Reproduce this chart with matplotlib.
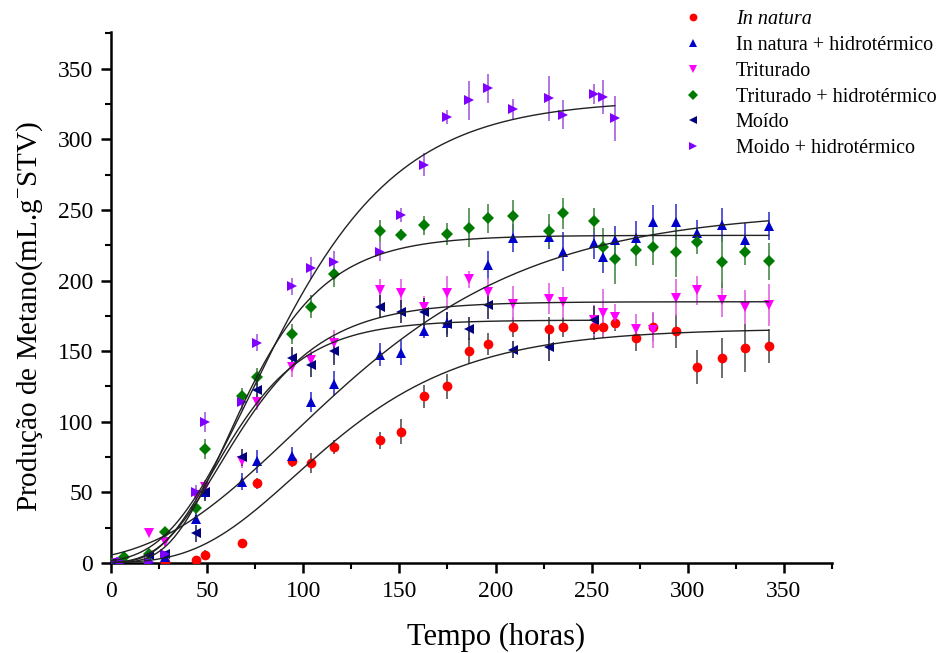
import numpy as np
import matplotlib
matplotlib.use('Agg')
import matplotlib.pyplot as plt
from matplotlib.lines import Line2D
from matplotlib.ticker import MultipleLocator

plt.rcParams['font.family'] = ['Liberation Serif', 'DejaVu Serif']
plt.rcParams['mathtext.fontset'] = 'custom'
plt.rcParams['mathtext.rm'] = 'Liberation Serif'

# In natura
t_nat = [0, 28, 44, 49, 68, 76, 94, 104, 116, 140, 151, 163, 175, 186, 196, 209, 228, 235,
         251, 256, 262, 273, 282, 294, 305, 318, 330, 342]
y_nat = [0, 0.5, 2, 6, 14.5, 56.5, 72, 71, 82, 87, 93, 118, 125, 150, 155, 167, 166, 167,
         167, 167, 170, 159, 167, 164.5, 139, 145, 152, 153.5]
e_nat = [1, 1, 2, 3, 2, 4, 4, 7, 5, 6, 9, 8, 9, 9, 8, 7, 8, 7,
         9, 8, 6, 9, 10, 12, 12, 14, 17, 12]

# In natura + hidrotermico
t_nat_h = [0, 5, 20, 28, 44, 49, 68, 76, 94, 104, 116, 140, 151, 163, 175, 196, 209, 228,
           235, 251, 256, 262, 273, 282, 294, 305, 318, 330, 342]
y_nat_h = [0, 1, 2, 4, 31.5, 50, 57.5, 72, 76, 114, 127, 147.5, 149, 164, 170, 211, 230, 231,
           220.5, 226.5, 216.5, 228.5, 230, 241.5, 241.5, 234, 239.5, 229, 238.5]
e_nat_h = [1, 1, 1, 2, 4, 5, 6, 8, 6, 7, 9, 8, 9, 5, 8, 10, 10, 9,
           14, 11, 11, 10, 12, 12, 13, 9, 12, 12, 10]

# Triturado
t_tri = [0, 5, 20, 28, 44, 49, 68, 76, 94, 104, 116, 140, 151, 163, 175, 186, 196, 209,
         228, 235, 251, 256, 262, 273, 282, 294, 305, 318, 330, 342]
y_tri = [0, 1, 21.5, 15, 48, 54, 72, 114, 139, 144, 156, 193, 191, 181, 191, 201, 192, 183.5,
         187, 184.5, 172, 177, 174.5, 166, 165, 188, 193, 186.5, 181, 182.5]
e_tri = [1, 1, 2, 3, 5, 5, 5, 6, 7, 6, 9, 8, 10, 8, 12, 6, 10, 13,
         11, 11, 11, 17, 9, 10, 13, 13, 10, 12, 12, 15]

# Triturado + hidrotermico
t_tri_h = [0, 7, 20, 28, 44, 49, 68, 76, 94, 104, 116, 140, 151, 163, 175, 186, 196, 209,
           228, 235, 251, 256, 262, 273, 282, 294, 305, 318, 330, 342]
y_tri_h = [0, 4.5, 6.5, 22, 39, 81, 118, 132, 162, 181.5, 204.5, 235, 232.5, 239, 233, 237.5, 244, 246,
           235, 247.5, 242.5, 224, 215.5, 221.5, 224, 220.5, 227.5, 213, 220, 213.5]
e_tri_h = [1, 1, 2, 2, 4, 7, 6, 6, 7, 8, 9, 8, 4, 7, 8, 14, 10, 11,
           12, 11, 9, 13, 18, 11, 13, 18, 9, 18, 9, 13]

# Moido
t_moi = [0, 20, 28, 44, 49, 68, 76, 94, 104, 116, 140, 151, 163, 175, 186, 196, 209, 228, 251]
y_moi = [0, 5.5, 6.5, 21, 50, 75, 122.5, 145, 140, 150, 181.5, 178, 178, 169, 166, 182.5, 151, 153, 172]
e_moi = [1, 1, 2, 6, 6, 6, 6, 8, 8, 10, 8, 8, 10, 9, 8, 10, 6, 10, 10]

# Moido + hidrotermico
t_moi_h = [0, 5, 20, 28, 44, 49, 68, 76, 94, 104, 116, 140, 151, 163, 175, 186, 196, 209,
           228, 235, 251, 256, 262]
y_moi_h = [0.5, 1, 1, 6.5, 50.5, 100, 114, 156, 196, 209, 213, 220.5, 246.5, 282, 316, 327.5, 336, 321.5,
           329, 317.5, 332, 330, 315]
e_moi_h = [1, 1, 1, 2, 5, 7, 6, 6, 6, 8, 8, 7, 5, 8, 5, 14, 10, 7,
           16, 10, 7, 12, 16]

# modified Gompertz fits: P (mL/g), Rm (mL/g.h), lambda (h)
fit_P = [166, 250, 185, 232, 172, 328]
fit_Rm = [1.22, 1.29, 2.25, 2.99, 2.34, 2.78]
fit_lag = [45, 23.7, 25.7, 31, 25.2, 29.5]

labels = ['In natura', 'In natura + hidrotérmico', 'Triturado', 'Triturado + hidrotérmico',
          'Moído', 'Moido + hidrotérmico']


def gompertz(t, P, Rm, lag):
    return P * np.exp(-np.exp(Rm * np.e / P * (lag - t) + 1))


series = [
    (t_nat, y_nat, e_nat, 'o', '#ff0000', '#555555', 7),
    (t_nat_h, y_nat_h, e_nat_h, '^', '#0000cc', '#3a3acc', 7.5),
    (t_tri, y_tri, e_tri, 'v', '#ff00ff', '#e065e0', 7.5),
    (t_tri_h, y_tri_h, e_tri_h, 'D', '#007a00', '#4a8a4a', 6),
    (t_moi, y_moi, e_moi, '<', '#000080', '#2a2a55', 7.5),
    (t_moi_h, y_moi_h, e_moi_h, '>', '#7f00ff', '#a55ee0', 7.5),
]

fig = plt.figure(figsize=(9.42, 6.53), dpi=100)
ax = fig.add_axes([0.1178, 0.1378, 0.7654, 0.8132])

handles = []
for i, (t, y, e, m, c, ec, ms) in enumerate(series):
    ax.errorbar(t, y, yerr=e, fmt=m, color=c, ecolor=ec, elinewidth=1.2, capsize=5,
                capthick=1.2, markersize=ms, markeredgewidth=0, zorder=3)
    tt = np.linspace(0, max(t), 300)
    ax.plot(tt, gompertz(tt, fit_P[i], fit_Rm[i], fit_lag[i]), color='#222222', lw=1, zorder=4)
    handles.append(Line2D([], [], marker=m, color=c, linestyle='none', markersize=ms * 0.8,
                          markeredgewidth=0))

ax.set_xlim(0, 375)
ax.set_ylim(0, 376)
ax.xaxis.set_major_locator(MultipleLocator(50))
ax.xaxis.set_minor_locator(MultipleLocator(25))
ax.yaxis.set_major_locator(MultipleLocator(50))
ax.yaxis.set_minor_locator(MultipleLocator(25))
ax.spines['top'].set_visible(False)
ax.spines['right'].set_visible(False)
for s in ['left', 'bottom']:
    ax.spines[s].set_linewidth(1.8)
ax.tick_params(which='major', direction='out', length=7, width=1.8, labelsize=17, pad=6)
ax.tick_params(which='minor', direction='out', length=4, width=1.5)

ax.set_xlabel('Tempo (horas)', fontsize=22)
ax.set_ylabel('Produção de Metano(mL.g$^{-}$STV)', fontsize=21)
ax.xaxis.set_label_coords(0.534, -0.113)
ax.yaxis.set_label_coords(-0.092, 0.465)

leg = fig.legend(handles, labels, loc='upper left', bbox_to_anchor=(0.7, 1.012), frameon=False,
                 fontsize=14.5, handletextpad=1.4, labelspacing=0.33, handlelength=1.5)
leg.get_texts()[0].set_fontstyle('italic')

plt.savefig('out.png', dpi=100)
